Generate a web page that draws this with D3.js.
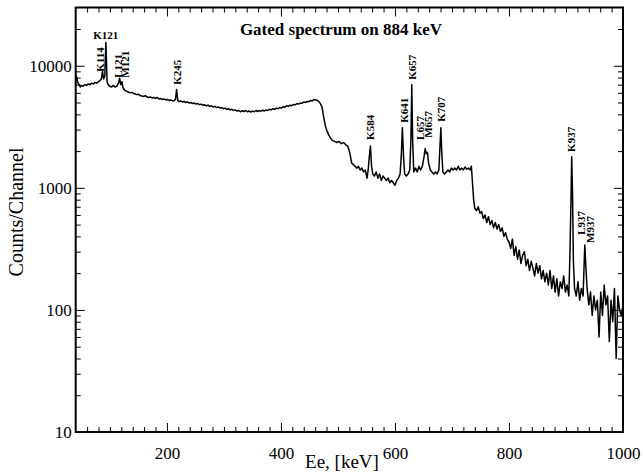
<!doctype html>
<html>
<head>
<meta charset="utf-8">
<script src="https://cdn.jsdelivr.net/npm/d3@7"></script>
<style>
  body { margin: 0; background: #fff; }
  svg { display: block; font-family: "Liberation Serif", "DejaVu Serif", serif; }
  .domain { display: none; }
  .tick line { stroke: #000; stroke-width: 1; }
  .peak { font-size: 11px; font-weight: bold; }
</style>
</head>
<body>
<svg id="chart" width="643" height="472"></svg>
<script>
// spectrum: [electron energy keV, counts per channel]
var spectrum = [
  [40,7400],[41,8300],[42,7900],[44,7200],[46,7000],[48,6700],[50,6900],[53,6800],[56,7000],[59,6900],
  [62,7100],[65,7000],[68,7200],[71,7100],[74,7300],[77,7200],[80,7400],[83,7600],[85,7800],
  [87,9000],[89,7800],[91,8200],[93,15500],[95,7400],[97,7000],[100,6800],[103,6700],[106,6900],
  [109,6700],[112,6800],[115,7200],[117,7900],[119,7000],[121,7400],[123,6600],[126,6300],
  [129,6200],[132,6100],[135,6000],[138,6050],[141,5950],[144,5900],[147,5800],[150,5850],
  [153,5700],[156,5650],[159,5600],[162,5700],[165,5550],[168,5500],[171,5550],[174,5450],
  [177,5500],[180,5400],[183,5500],[186,5350],[189,5400],[192,5300],[195,5350],[198,5250],
  [201,5300],[204,5200],[207,5250],[210,5150],[213,5200],[215,5300],[217,6400],[219,5200],
  [221,5100],[224,5150],[227,5050],[230,5100],[233,5000],[236,5050],[239,4950],[242,5000],
  [245,4900],[248,4950],[251,4850],[254,4900],[257,4800],[260,4850],[263,4750],[266,4800],
  [269,4700],[272,4750],[275,4650],[278,4700],[281,4600],[284,4650],[287,4550],[290,4600],
  [293,4500],[296,4550],[299,4450],[302,4500],[305,4400],[308,4450],[311,4350],[314,4400],
  [317,4300],[320,4350],[323,4250],[326,4300],[329,4200],[332,4280],[335,4220],[338,4300],
  [341,4200],[344,4260],[347,4180],[350,4250],[353,4200],[356,4300],[359,4220],[362,4280],
  [365,4250],[368,4320],[371,4260],[374,4350],[377,4300],[380,4400],[383,4350],[386,4450],
  [389,4400],[392,4500],[395,4450],[398,4550],[401,4500],[404,4620],[407,4580],[410,4700],
  [413,4650],[416,4750],[419,4700],[422,4820],[425,4780],[428,4900],[431,4850],[434,4950],
  [437,4920],[440,5050],[443,5000],[446,5100],[449,5080],[452,5200],[455,5150],[458,5300],
  [461,5250],[464,5200],[468,5000],[472,4600],[475,3800],[478,3200],[481,2900],[484,2700],
  [487,2550],[490,2450],[494,2400],[498,2350],[502,2400],[506,2300],[510,2350],[514,2250],
  [517,2200],[520,2000],[522,1800],[524,1600],[527,1550],[530,1500],[533,1450],[536,1500],
  [539,1400],[542,1450],[545,1350],[548,1400],[551,1200],[553,1400],[555,1800],[557,2200],
  [559,1500],[561,1300],[564,1250],[567,1350],[570,1200],[573,1300],[576,1150],[579,1250],
  [582,1200],[585,1150],[588,1200],[591,1100],[594,1150],[597,1100],[600,1050],[603,1150],
  [606,1200],[609,1300],[611,1800],[613,3100],[615,1800],[617,1300],[620,1250],[623,1300],
  [626,1400],[628,2500],[629.5,7000],[631,2500],[633,1350],[636,1450],[639,1350],[642,1500],
  [645,1400],[648,1500],[651,1800],[653,2100],[655,1900],[657,1950],[659,1600],[662,1400],
  [665,1350],[668,1300],[671,1350],[674,1300],[677,1400],[679,2200],[680.5,3100],[682,2000],
  [684,1350],[687,1300],[690,1350],[693,1400],[696,1350],[699,1450],[702,1400],[705,1450],
  [708,1400],[711,1500],[714,1400],[717,1450],[720,1400],[723,1480],[726,1420],[729,1450],
  [732,1400],[734,1500],[736,1100],[738,800],[740,680],[743,650],[746,700],[749,620],
  [752,640],[755,560],[758,600],[761,520],[764,580],[767,500],[770,540],[773,470],[776,520],
  [779,460],[782,500],[785,440],[788,470],[791,400],[794,430],[797,380],[800,360],[803,320],
  [806,380],[809,280],[812,330],[815,260],[818,310],[821,240],[824,280],[827,300],[830,230],
  [833,260],[836,210],[839,250],[842,220],[845,190],[848,240],[851,200],[854,230],[857,180],
  [860,210],[863,170],[866,200],[869,160],[872,210],[875,150],[878,190],[881,140],[884,180],
  [887,130],[890,170],[893,150],[896,190],[899,140],[902,160],[905,130],[907,300],[909,900],
  [910,1800],[911.5,900],[913,250],[915,150],[918,130],[921,170],[924,120],[927,150],
  [930,130],[932,250],[933,340],[935,220],[937,150],[940,110],[943,140],[946,90],[949,130],
  [952,100],[955,120],[958,60],[961,140],[964,90],[967,160],[970,110],[973,130],[976,55],
  [979,120],[982,80],[985,150],[988,40],[991,130],[994,100],[997,90],[1000,110]
];

// peak labels: text, energy and counts where each label starts
var peakNames  = ["K121","K114","L121","M121","K245","K584","K641","K657","L657","M657","K707","K937","L937","M937"];
var peakEnergy = [92.8, 82.6, 114.2, 126.5, 218.6, 556.3, 616, 630.9, 644, 659, 681, 909.8, 927.4, 942.3];
var peakCounts = [16560, 8930, 7980, 7980, 6980, 2470, 3410, 7670, 2470, 2570, 3480, 1970, 412, 354];

var xMajor = [200, 400, 600, 800, 1000];
var yMajor = [10, 100, 1000, 10000];

var title = "Gated spectrum on 884 keV";
var xTitle = "Ee, [keV]";
var yTitle = "Counts/Channel";

var svg = d3.select("#chart"),
    margin = {top: 7.5, right: 20, bottom: 40, left: 75.7},
    width = 643 - margin.left - margin.right,
    height = 472 - margin.top - margin.bottom;

var g = svg.append("g").attr("transform", "translate(" + margin.left + "," + margin.top + ")");

var x = d3.scaleLinear().domain([40, 1000]).range([0, width]);
var y = d3.scaleLog().domain([10, 30000]).range([height, 0]);

var xMinor = d3.range(60, 1000, 20).filter(function(v) { return v % 200 != 0; });
var yMinor = [];
[10, 100, 1000, 10000].forEach(function(d) {
  for (var k = 2; k <= 9; k++) if (d * k < 30000) yMinor.push(d * k);
});

// ticks, pointing inward on all four sides
g.append("g").attr("transform", "translate(0," + height + ")")
  .call(d3.axisBottom(x).tickValues(xMajor).tickSize(-9).tickPadding(15).tickFormat(d3.format("d")));
g.append("g").attr("transform", "translate(0," + height + ")")
  .call(d3.axisBottom(x).tickValues(xMinor).tickSize(-5).tickFormat(""));
g.append("g")
  .call(d3.axisTop(x).tickValues(xMajor).tickSize(-9).tickFormat(""));
g.append("g")
  .call(d3.axisTop(x).tickValues(xMinor).tickSize(-5).tickFormat(""));

g.append("g")
  .call(d3.axisLeft(y).tickValues(yMajor).tickSize(-9).tickPadding(4).tickFormat(d3.format("d")));
g.append("g")
  .call(d3.axisLeft(y).tickValues(yMinor).tickSize(-5).tickFormat(""));
g.append("g").attr("transform", "translate(" + width + ",0)")
  .call(d3.axisRight(y).tickValues(yMajor).tickSize(-9).tickFormat(""));
g.append("g").attr("transform", "translate(" + width + ",0)")
  .call(d3.axisRight(y).tickValues(yMinor).tickSize(-5).tickFormat(""));

g.selectAll(".tick text")
  .attr("fill", "#000")
  .style("font-family", "'Liberation Serif', serif")
  .style("font-size", "17px");

// spectrum line
var line = d3.line()
  .x(function(d) { return x(d[0]); })
  .y(function(d) { return y(d[1]); });

g.append("path")
  .datum(spectrum)
  .attr("fill", "none")
  .attr("stroke", "#000")
  .attr("stroke-width", 1.5)
  .attr("stroke-linejoin", "round")
  .attr("d", line);

// frame
g.append("rect")
  .attr("width", width).attr("height", height)
  .attr("fill", "none").attr("stroke", "#000").attr("stroke-width", 2);

// peak labels
peakNames.forEach(function(name, i) {
  var px = x(peakEnergy[i]), py = y(peakCounts[i]);
  if (i == 0) {
    g.append("text").attr("class", "peak")
      .attr("x", px).attr("y", py).attr("text-anchor", "middle").text(name);
  } else {
    g.append("text").attr("class", "peak")
      .attr("transform", "translate(" + px + "," + py + ") rotate(-90)")
      .attr("dy", "0.35em").text(name);
  }
});

// titles
svg.append("text")
  .attr("x", 442).attr("y", 35)
  .attr("text-anchor", "end")
  .style("font-size", "17px").style("font-weight", "bold")
  .text(title);

svg.append("text")
  .attr("x", 342).attr("y", 468)
  .attr("text-anchor", "middle")
  .style("font-size", "19px")
  .text(xTitle);

svg.append("text")
  .attr("transform", "translate(23,212) rotate(-90)")
  .attr("text-anchor", "middle")
  .style("font-size", "20px")
  .text(yTitle);
</script>
</body>
</html>
